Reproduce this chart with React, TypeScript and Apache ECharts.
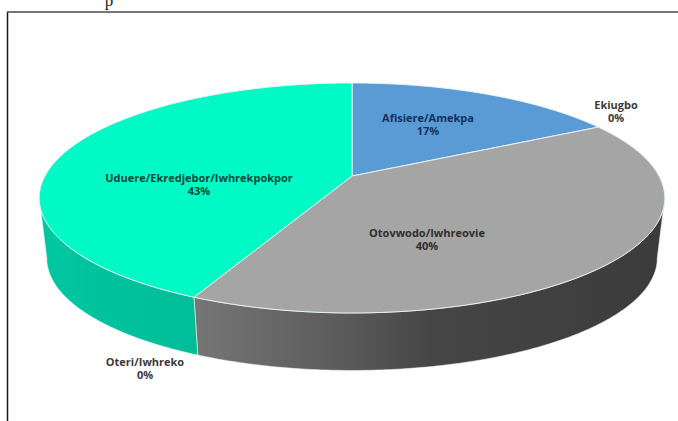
import React, { useEffect, useRef } from "react";
import * as echarts from "echarts";

// Share of respondents per locality, clockwise from twelve o'clock.
const categories = ["Afisiere/Amekpa", "Ekiugbo", "Otovwodo/Iwhreovie", "Oteri/Iwhreko", "Uduere/Ekredjebor/Iwhrekpokpor"];
const shares = [17, 0, 40, 0, 43];

const topColors = ["#5b9bd5", "#ed7d31", "#a5a5a5", "#ffc000", "#00f9c5"];
const sideStops: [number, string][][] = [
  [[0, "#3f74a5"], [1, "#3f74a5"]],
  [[0, "#a85820"], [1, "#a85820"]],
  [[0, "#767676"], [0.32, "#5a5a5a"], [0.5, "#464646"], [1, "#3b3b3b"]],
  [[0, "#b58800"], [1, "#b58800"]],
  [[0, "#00c7a0"], [1, "#00bd98"]],
];
const labelColors = ["#12315e", "#3a3a3a", "#2e2e2e", "#3a3a3a", "#04483a"];
const labelAnchors: [number, number][] = [[428, 118], [616, 105], [427, 233], [145, 362], [199, 178]];

// Perspective projection of the pie's disc onto the page.
const CX = 352;
const CY = 176;
const RX = 307;
const RY = 110.8;
const TILT = 0.191;
const DEPTH_SCALE = 0.976;
const DEPTH_SHIFT = 65;
const FRONT_START = 101;
const FRONT_END = 259;

const project = (deg: number): [number, number] => {
  const a = (deg * Math.PI) / 180;
  const u = Math.sin(a);
  const v = Math.cos(a);
  const w = 1 + TILT * v;
  return [CX + (RX * u) / w, CY - (RY * v) / w];
};
const lower = ([x, y]: [number, number]): [number, number] => [
  CX + DEPTH_SCALE * (x - CX),
  DEPTH_SHIFT + DEPTH_SCALE * y,
];
const arc = (from: number, to: number): [number, number][] => {
  const pts: [number, number][] = [];
  const steps = Math.max(1, Math.ceil((to - from) * 2));
  for (let i = 0; i <= steps; i++) pts.push(project(from + ((to - from) * i) / steps));
  return pts;
};

const total = shares.reduce((s, v) => s + v, 0);

const renderSlice = (params: any, api: any) => {
  const i = params.dataIndex;
  const value = api.value(0);
  const before = shares.slice(0, i).reduce((s, v) => s + v, 0);
  const start = (before / total) * 360;
  const end = start + (value / total) * 360;
  const children: any[] = [];

  if (value > 0) {
    const a = Math.max(start, FRONT_START);
    const b = Math.min(end, FRONT_END);
    if (b > a) {
      const upper = arc(a, b);
      children.push({
        type: "polygon",
        z2: 1,
        shape: { points: [...upper, ...upper.slice().reverse().map(lower)] },
        style: {
          fill: new echarts.graphic.LinearGradient(0, 0, 1, 0, sideStops[i].map(([offset, color]) => ({ offset, color }))),
          stroke: "#eef6f4",
          lineWidth: 0.6,
        },
      });
    }
    children.push({
      type: "polygon",
      z2: 2,
      shape: { points: [[CX, CY], ...arc(start, end)] },
      style: { fill: topColors[i], stroke: "#e6f4f2", lineWidth: 1 },
    });
  }

  const [lx, ly] = labelAnchors[i];
  children.push({
    type: "text",
    z2: 5,
    style: {
      x: lx,
      y: ly,
      text: `${categories[i]}\n${value}%`,
      fill: labelColors[i],
      fontFamily: "'Open Sans', sans-serif",
      fontWeight: 700,
      fontSize: 11,
      lineHeight: 13,
      align: "center",
      verticalAlign: "middle",
    },
    y: 6,
  });
  return { type: "group", children };
};

export default function App() {
  const ref = useRef<HTMLDivElement>(null);
  useEffect(() => {
    const chart = echarts.init(ref.current!, undefined, { renderer: "svg" });
    chart.setOption({
      animation: false,
      backgroundColor: "#ffffff",
      graphic: [
        { type: "line", shape: { x1: 7.5, y1: 12, x2: 7.5, y2: 421 }, style: { stroke: "#1a1a1a", lineWidth: 1.5 } },
        { type: "line", shape: { x1: 7, y1: 12, x2: 678, y2: 12 }, style: { stroke: "#4a4a4a", lineWidth: 1.5 } },
        {
          type: "text",
          style: { x: 109, y: 9, text: "p", fill: "#222222", fontFamily: "'Liberation Serif', serif", fontSize: 17, align: "center", verticalAlign: "bottom" },
        },
      ],
      series: [
        {
          type: "custom",
          coordinateSystem: "none",
          silent: true,
          renderItem: renderSlice,
          data: shares.map((v) => [v]),
        },
      ],
    });
    return () => chart.dispose();
  }, []);
  return <div ref={ref} style={{ position: "absolute", left: 0, top: 0, width: 678, height: 421 }} />;
}
